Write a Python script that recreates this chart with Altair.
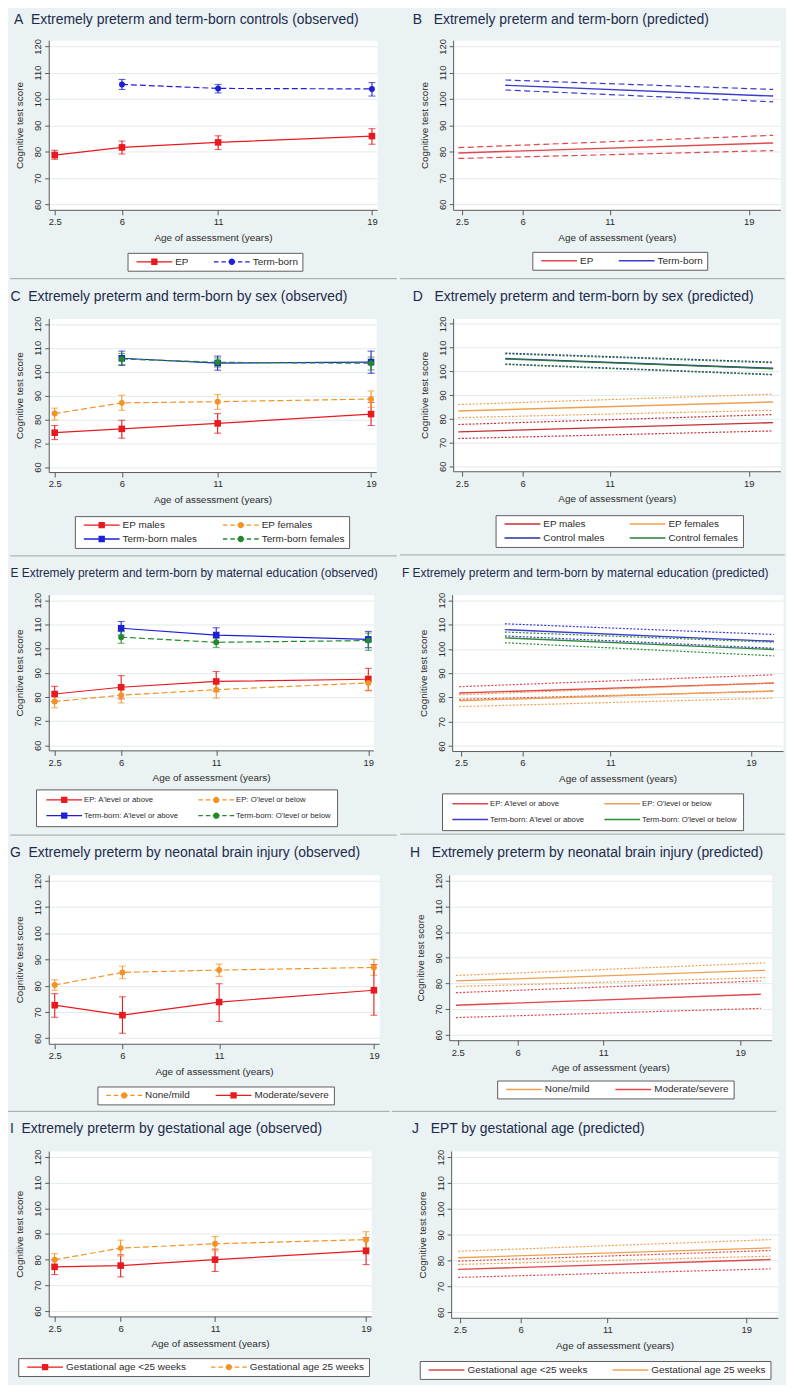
import altair as alt
import pandas as pd

FONT = "Liberation Sans"
BG = "#eaf2f3"
GRID = "#e2eaec"
AXIS_COL = "#5a5a5a"
TEXT_COL = "#2b2b2b"
TITLE_COL = "#1d2b4b"
SEP_COL = "#9da3a5"

OBS_X = [2.19, 19.27]
PRED_X = [2.0, 20.82]
Y_RANGE = [57.9, 122.3]
AGE_TICKS = [2.5, 6, 11, 19]
SCORE_TICKS = [60, 70, 80, 90, 100, 110, 120]

OBS_AGES = [2.5, 6, 11, 19]
TERM_AGES = [6, 11, 19]

RED, BLUE, ORANGE, GREEN = "#e8191f", "#1f1fd6", "#f39325", "#238a2a"
P_RED, P_BLUE, P_ORANGE, P_GREEN = "#e0484e", "#3b3bd0", "#efa04e", "#2f8a3a"
P_DRED, P_NAVY, P_DGREEN = "#c62f35", "#25309c", "#2d7c38"

# ---------------- A (observed) ----------------
A_EP_MEAN = [78.7, 81.6, 83.5, 85.9]
A_EP_LO = [77.1, 79.1, 80.8, 82.8]
A_EP_HI = [80.5, 84.0, 86.0, 88.7]
A_TB_MEAN = [105.5, 104.0, 103.8]
A_TB_LO = [103.6, 102.3, 101.1]
A_TB_HI = [107.4, 105.5, 106.2]

# ---------------- B (predicted) ----------------
B_EP_AGE = [2.3, 20.4]
B_EP_FIT = [79.5, 83.3]
B_EP_LO = [77.4, 80.4]
B_EP_HI = [81.5, 86.2]
B_TB_AGE = [5.0, 20.4]
B_TB_FIT = [105.2, 101.1]
B_TB_LO = [103.4, 98.9]
B_TB_HI = [107.2, 103.6]

# ---------------- C (observed) ----------------
C_EPM_MEAN = [74.4, 76.0, 78.3, 82.2]
C_EPM_LO = [71.5, 72.1, 74.2, 77.4]
C_EPM_HI = [77.4, 79.6, 82.4, 87.1]
C_EPF_MEAN = [82.4, 86.9, 87.4, 88.5]
C_EPF_LO = [79.7, 83.8, 84.2, 85.0]
C_EPF_HI = [84.7, 90.1, 90.4, 91.9]
C_TBM_MEAN = [105.6, 103.6, 104.0]
C_TBM_LO = [102.6, 100.6, 99.3]
C_TBM_HI = [108.6, 106.5, 108.6]
C_TBF_MEAN = [105.3, 103.9, 103.5]
C_TBF_LO = [102.9, 101.9, 100.7]
C_TBF_HI = [107.6, 105.7, 106.1]

# ---------------- D (predicted) ----------------
D_EPM_AGE = [2.3, 20.4]
D_EPM_FIT = [74.5, 78.4]
D_EPM_LO = [71.7, 74.9]
D_EPM_HI = [77.6, 81.8]
D_EPF_AGE = [2.3, 20.4]
D_EPF_FIT = [83.3, 87.1]
D_EPF_LO = [80.5, 83.6]
D_EPF_HI = [86.0, 90.4]
D_CM_AGE = [5.0, 20.4]
D_CM_FIT = [105.4, 101.3]
D_CM_LO = [103.1, 98.7]
D_CM_HI = [107.7, 103.9]
D_CF_AGE = [5.0, 20.4]
D_CF_FIT = [105.2, 101.1]
D_CF_LO = [102.9, 98.5]
D_CF_HI = [107.4, 103.6]

# ---------------- E (observed) ----------------
E_EPA_MEAN = [81.2, 84.0, 86.4, 87.3]
E_EPA_LO = [78.1, 79.2, 82.2, 82.7]
E_EPA_HI = [84.4, 88.8, 90.5, 91.8]
E_EPO_MEAN = [78.1, 80.7, 83.0, 85.8]
E_EPO_LO = [75.5, 77.5, 79.5, 82.5]
E_EPO_HI = [80.5, 83.4, 86.5, 88.8]
E_TBA_MEAN = [108.4, 105.6, 103.8]
E_TBA_LO = [105.6, 102.5, 100.4]
E_TBA_HI = [111.2, 108.6, 107.1]
E_TBO_MEAN = [104.7, 102.6, 103.3]
E_TBO_LO = [102.2, 100.5, 99.3]
E_TBO_HI = [107.0, 104.4, 106.4]

# ---------------- F (predicted) ----------------
F_EPA_AGE = [2.4, 20.3]
F_EPA_FIT = [81.8, 85.9]
F_EPA_LO = [79.2, 82.5]
F_EPA_HI = [84.4, 89.3]
F_EPO_AGE = [2.4, 20.3]
F_EPO_FIT = [78.6, 82.7]
F_EPO_LO = [76.2, 79.7]
F_EPO_HI = [81.1, 85.9]
F_TBA_AGE = [5.0, 20.3]
F_TBA_FIT = [107.9, 103.1]
F_TBA_LO = [105.3, 100.2]
F_TBA_HI = [110.3, 105.9]
F_TBO_AGE = [5.0, 20.3]
F_TBO_FIT = [104.5, 99.7]
F_TBO_LO = [102.5, 97.1]
F_TBO_HI = [106.9, 102.7]

# ---------------- G (observed) ----------------
G_NM_MEAN = [80.3, 85.1, 86.0, 87.0]
G_NM_LO = [78.3, 82.7, 83.6, 84.0]
G_NM_HI = [82.3, 87.5, 88.3, 90.1]
G_MS_MEAN = [72.6, 68.8, 73.8, 78.3]
G_MS_LO = [68.0, 61.9, 66.4, 68.8]
G_MS_HI = [77.0, 75.8, 80.8, 88.1]

# ---------------- H (predicted) ----------------
H_NM_AGE = [2.4, 20.45]
H_NM_FIT = [81.0, 85.1]
H_NM_LO = [78.8, 82.3]
H_NM_HI = [83.1, 88.0]
H_MS_AGE = [2.4, 20.2]
H_MS_FIT = [71.5, 75.8]
H_MS_LO = [66.7, 70.3]
H_MS_HI = [76.4, 81.0]

# ---------------- I (observed) ----------------
I_LT_MEAN = [77.2, 77.7, 80.0, 83.4]
I_LT_LO = [74.2, 73.3, 75.4, 78.1]
I_LT_HI = [79.9, 81.9, 84.1, 88.6]
I_GE_MEAN = [80.0, 84.5, 86.2, 87.8]
I_GE_LO = [77.7, 81.4, 83.4, 84.7]
I_GE_HI = [82.3, 87.6, 89.0, 90.9]

# ---------------- J (predicted) ----------------
J_LT_AGE = [2.4, 20.4]
J_LT_FIT = [76.6, 80.4]
J_LT_LO = [73.5, 76.8]
J_LT_HI = [79.8, 83.9]
J_GE_AGE = [2.4, 20.4]
J_GE_FIT = [81.1, 84.9]
J_GE_LO = [78.5, 81.7]
J_GE_HI = [83.6, 88.1]


# ---------------- legend key glyphs ----------------
def _bar(x0, x1, h=0.65):
    return f"M{x0},{-h}L{x1},{-h}L{x1},{h}L{x0},{h}Z"


SQUARE = "M-3.2,-3.2L3.2,-3.2L3.2,3.2L-3.2,3.2Z"
CIRCLE = "M-3.2,0A3.2,3.2 0 1,1 3.2,0A3.2,3.2 0 1,1 -3.2,0Z"
KEY_SOLID = _bar(-18, 18) + SQUARE
KEY_DASH = "".join(_bar(a, b) for a, b in
                   [(-18, -13.5), (-10.5, -6), (-3.5, 3.5), (6, 10.5), (13.5, 18)]) + CIRCLE
KEY_LINE = _bar(-18, 18, 0.75)


def x_axis():
    return alt.Axis(values=AGE_TICKS, format="~g", title="Age of assessment (years)",
                    grid=False, tickSize=5, labelPadding=2, titlePadding=6,
                    labelFlush=False, labelOverlap=False)


def y_axis():
    return alt.Axis(values=SCORE_TICKS, format="d", title="Cognitive test score",
                    labelAngle=270, labelAlign="center", labelBaseline="bottom",
                    tickSize=4, labelPadding=2, titlePadding=8, grid=True,
                    labelOverlap=False)


def make_legend(lx, ly, fs=10, pad=4, cpad=20, rpad=4):
    return alt.Legend(title=None, orient="none", legendX=lx, legendY=ly, columns=2,
                      direction="horizontal",
                      symbolSize=4, symbolStrokeWidth=0, symbolOpacity=1,
                      symbolOffset=18, labelOffset=16, labelFont=FONT,
                      labelFontSize=fs, labelColor=TEXT_COL, labelLimit=400,
                      padding=pad, columnPadding=cpad, rowPadding=rpad,
                      strokeColor="#5e5e5e", fillColor="white")


def sep_rule(xl, xr, y, visible=True):
    return alt.Chart(pd.DataFrame({"k": [0]})).mark_rule(
        color=SEP_COL, strokeWidth=1, strokeOpacity=1 if visible else 0
    ).encode(x=alt.value(xl), x2=alt.value(xr), y=alt.value(y))


def title_layer(text, dx, size, ty):
    return alt.Chart(pd.DataFrame({"t": [text]})).mark_text(
        align="left", baseline="middle", font=FONT, fontSize=size, color=TITLE_COL
    ).encode(text="t:N", x=alt.value(dx), y=alt.value(ty))


def key_layer(base, X, Y, names, colors, shapes, leg):
    # legend only: an empty layer whose fill + shape legends merge into one key
    return base.transform_filter("false").mark_point(filled=True, size=4, opacity=1).encode(
        x=X, y=Y,
        fill=alt.Fill("series:N", scale=alt.Scale(domain=names, range=colors), legend=leg),
        shape=alt.Shape("series:N", scale=alt.Scale(domain=names, range=shapes), legend=leg))


def obs_panel(title, series, lay):
    rows = []
    for name, ages, mean, lo, hi, color, dashed in series:
        for a, m, l, h in zip(ages, mean, lo, hi):
            rows.append(dict(series=name, age=a, mean=m, lo=l, hi=h))
    df = pd.DataFrame(rows)
    names = [s[0] for s in series]
    xs = alt.Scale(domain=OBS_X, nice=False, zero=False)
    ys = alt.Scale(domain=Y_RANGE, nice=False, zero=False)
    X = alt.X("age:Q", scale=xs, axis=x_axis())
    base = alt.Chart(df)
    lines, bars, marks = [], [], []
    for name, ages, mean, lo, hi, color, dashed in series:
        sub = base.transform_filter(alt.datum.series == name)
        kw = dict(strokeDash=[6, 3]) if dashed else {}
        lines.append(sub.mark_line(color=color, strokeWidth=1.2, **kw).encode(
            x=X, y=alt.Y("mean:Q", scale=ys, axis=y_axis())))
        bars.append(sub.mark_errorbar(ticks=True, size=7, thickness=1.1, orient="vertical",
                                      color=color).encode(
            x=X, y=alt.Y("lo:Q", scale=ys, axis=y_axis()), y2="hi:Q"))
        if dashed:
            mk = sub.mark_circle(color=color, size=36, opacity=1)
        else:
            mk = sub.mark_square(color=color, size=44, opacity=1)
        marks.append(mk.encode(x=X, y=alt.Y("mean:Q", scale=ys, axis=y_axis())))
    leg = make_legend(lay["lx"], lay["ly"], **lay.get("legopts", {}))
    key = key_layer(base, X, alt.Y("mean:Q", scale=ys, axis=y_axis()), names,
                    [s[5] for s in series], [KEY_DASH if s[6] else KEY_SOLID for s in series], leg)
    return alt.layer(*lines, *bars, *marks, key, sep_rule(*lay["sep"]),
                     title_layer(title, lay["tdx"], lay.get("tsize", 14),
                                 lay.get("ty", -22))).properties(
        width=lay["w"], height=lay["h"])


def pred_panel(title, series, lay, ci_dash):
    rows = []
    for name, ages, fit, lo, hi, color in series:
        for a, f, l, h in zip(ages, fit, lo, hi):
            rows.append(dict(series=name, age=a, fit=f, lo=l, hi=h))
    df = pd.DataFrame(rows)
    names = [s[0] for s in series]
    xs = alt.Scale(domain=PRED_X, nice=False, zero=False)
    ys = alt.Scale(domain=Y_RANGE, nice=False, zero=False)
    X = alt.X("age:Q", scale=xs, axis=x_axis())
    base = alt.Chart(df)
    layers = []
    for name, ages, fit, lo, hi, color in series:
        sub = base.transform_filter(alt.datum.series == name)
        layers.append(sub.mark_line(color=color, strokeWidth=1.2, strokeDash=ci_dash).encode(
            x=X, y=alt.Y("hi:Q", scale=ys, axis=y_axis())))
        layers.append(sub.mark_line(color=color, strokeWidth=1.2, strokeDash=ci_dash).encode(
            x=X, y=alt.Y("lo:Q", scale=ys, axis=y_axis())))
        layers.append(sub.mark_line(color=color, strokeWidth=1.4).encode(
            x=X, y=alt.Y("fit:Q", scale=ys, axis=y_axis())))
    leg = make_legend(lay["lx"], lay["ly"], **lay.get("legopts", {}))
    layers.append(key_layer(base, X, alt.Y("fit:Q", scale=ys, axis=y_axis()), names,
                            [s[5] for s in series], [KEY_LINE for s in series], leg))
    layers.append(sep_rule(*lay["sep"]))
    layers.append(title_layer(title, lay["tdx"], lay.get("tsize", 14), lay.get("ty", -22)))
    return alt.layer(*layers).properties(width=lay["w"], height=lay["h"])


NB = "\u00a0"
SMALL_LEG = dict(fs=7.8, pad=6.5, cpad=16, rpad=7)

LAY = {
    "A": dict(w=330.5, h=170.7, tdx=-35, ty=-20, lx=79.3, ly=214, sep=(-38.7, 350.3, 240)),
    "B": dict(w=329.4, h=170.7, tdx=-40.6, ty=-20, lx=79.7, ly=213, sep=(-53.3, 333.7, 240)),
    "C": dict(w=329.6, h=154.6, tdx=-38.6, lx=26.3, ly=199, sep=(-38.7, 350.3, 239)),
    "D": dict(w=329.4, h=153.8, tdx=-40.6, lx=42.7, ly=198, sep=(-53.3, 333.7, 238)),
    "E": dict(w=326.8, h=156.7, tdx=-38.5, tsize=12, lx=-12.8, ly=196,
              sep=(-38.8, 350.2, 242), legopts=SMALL_LEG),
    "F": dict(w=333.0, h=157.4, tdx=-50.5, tsize=12, lx=-10.2, ly=200,
              sep=(-52.2, 334.8, 241), legopts=SMALL_LEG),
    "G": dict(w=332.5, h=170.0, tdx=-39, lx=49, ly=213, sep=(-46, 343, 238)),
    "H": dict(w=324.3, h=166.4, tdx=-39.4, lx=48.3, ly=207, sep=(-57.7, 329.3, 238)),
    "I": dict(w=324.5, h=166.4, tdx=-39.1, lx=-30.7, ly=208.4, sep=(-44.4, 344.6, 166.4, False)),
    "J": dict(w=328.8, h=167.8, tdx=-39.3, lx=-31.6, ly=211.3, sep=(-58.3, 328.7, 167.8, False)),
}

pA = obs_panel("A" + NB * 2 + "Extremely preterm and term-born controls (observed)", [
    ("EP", OBS_AGES, A_EP_MEAN, A_EP_LO, A_EP_HI, RED, False),
    ("Term-born", TERM_AGES, A_TB_MEAN, A_TB_LO, A_TB_HI, BLUE, True),
], LAY["A"])

pB = pred_panel("B" + NB * 3 + "Extremely preterm and term-born (predicted)", [
    ("EP", B_EP_AGE, B_EP_FIT, B_EP_LO, B_EP_HI, P_RED),
    ("Term-born", B_TB_AGE, B_TB_FIT, B_TB_LO, B_TB_HI, P_BLUE),
], LAY["B"], [6, 3.5])

pC = obs_panel("C" + NB * 2 + "Extremely preterm and term-born by sex (observed)", [
    ("EP males", OBS_AGES, C_EPM_MEAN, C_EPM_LO, C_EPM_HI, RED, False),
    ("EP females", OBS_AGES, C_EPF_MEAN, C_EPF_LO, C_EPF_HI, ORANGE, True),
    ("Term-born males", TERM_AGES, C_TBM_MEAN, C_TBM_LO, C_TBM_HI, BLUE, False),
    ("Term-born females", TERM_AGES, C_TBF_MEAN, C_TBF_LO, C_TBF_HI, GREEN, True),
], LAY["C"])

pD = pred_panel("D" + NB * 3 + "Extremely preterm and term-born by sex (predicted)", [
    ("EP males", D_EPM_AGE, D_EPM_FIT, D_EPM_LO, D_EPM_HI, P_DRED),
    ("EP females", D_EPF_AGE, D_EPF_FIT, D_EPF_LO, D_EPF_HI, P_ORANGE),
    ("Control males", D_CM_AGE, D_CM_FIT, D_CM_LO, D_CM_HI, P_NAVY),
    ("Control females", D_CF_AGE, D_CF_FIT, D_CF_LO, D_CF_HI, P_DGREEN),
], LAY["D"], [2, 1.6])

pE = obs_panel("E Extremely preterm and term-born by maternal education (observed)", [
    ("EP: A'level or above", OBS_AGES, E_EPA_MEAN, E_EPA_LO, E_EPA_HI, RED, False),
    ("EP: O'level or below", OBS_AGES, E_EPO_MEAN, E_EPO_LO, E_EPO_HI, ORANGE, True),
    ("Term-born: A'level or above", TERM_AGES, E_TBA_MEAN, E_TBA_LO, E_TBA_HI, BLUE, False),
    ("Term-born: O'level or below", TERM_AGES, E_TBO_MEAN, E_TBO_LO, E_TBO_HI, GREEN, True),
], LAY["E"])

pF = pred_panel("F Extremely preterm and term-born by maternal education (predicted)", [
    ("EP: A'level or above", F_EPA_AGE, F_EPA_FIT, F_EPA_LO, F_EPA_HI, P_RED),
    ("EP: O'level or below", F_EPO_AGE, F_EPO_FIT, F_EPO_LO, F_EPO_HI, P_ORANGE),
    ("Term-born: A'level or above", F_TBA_AGE, F_TBA_FIT, F_TBA_LO, F_TBA_HI, P_BLUE),
    ("Term-born: O'level or below", F_TBO_AGE, F_TBO_FIT, F_TBO_LO, F_TBO_HI, P_GREEN),
], LAY["F"], [2, 1.6])

pG = obs_panel("G" + NB * 2 + "Extremely preterm by neonatal brain injury (observed)", [
    ("None/mild", OBS_AGES, G_NM_MEAN, G_NM_LO, G_NM_HI, ORANGE, True),
    ("Moderate/severe", OBS_AGES, G_MS_MEAN, G_MS_LO, G_MS_HI, RED, False),
], LAY["G"])

pH = pred_panel("H" + NB * 3 + "Extremely preterm by neonatal brain injury (predicted)", [
    ("None/mild", H_NM_AGE, H_NM_FIT, H_NM_LO, H_NM_HI, P_ORANGE),
    ("Moderate/severe", H_MS_AGE, H_MS_FIT, H_MS_LO, H_MS_HI, P_RED),
], LAY["H"], [2, 1.6])

pI = obs_panel("I" + NB * 2 + "Extremely preterm by gestational age (observed)", [
    ("Gestational age <25 weeks", OBS_AGES, I_LT_MEAN, I_LT_LO, I_LT_HI, RED, False),
    ("Gestational age 25 weeks", OBS_AGES, I_GE_MEAN, I_GE_LO, I_GE_HI, ORANGE, True),
], LAY["I"])

pJ = pred_panel("J" + NB * 3 + "EPT by gestational age (predicted)", [
    ("Gestational age <25 weeks", J_LT_AGE, J_LT_FIT, J_LT_LO, J_LT_HI, P_RED),
    ("Gestational age 25 weeks", J_GE_AGE, J_GE_FIT, J_GE_LO, J_GE_HI, P_ORANGE),
], LAY["J"], [2, 1.6])

RES = dict(x="independent", y="independent", fill="independent", shape="independent")
LRES = dict(fill="independent", shape="independent")


def row(a, b):
    return alt.hconcat(a, b, spacing=0).resolve_scale(**RES).resolve_legend(**LRES)


chart = alt.vconcat(
    row(pA, pB), row(pC, pD), row(pE, pF), row(pG, pH), row(pI, pJ), spacing=9
).resolve_scale(**RES).resolve_legend(**LRES).properties(
    padding={"left": -6, "top": 0, "right": 0, "bottom": 0}
).configure(background=BG, font=FONT).configure_view(
    fill="white", stroke="transparent"
).configure_axis(
    domainColor=AXIS_COL, tickColor=AXIS_COL, gridColor=GRID, gridWidth=1,
    labelFont=FONT, titleFont=FONT, labelColor=TEXT_COL, titleColor=TEXT_COL,
    labelFontSize=9.5, titleFontSize=10, titleFontWeight="normal",
    domainWidth=1, tickWidth=1
)

chart.save("out.html", embed_options={"renderer": "svg", "actions": False})
